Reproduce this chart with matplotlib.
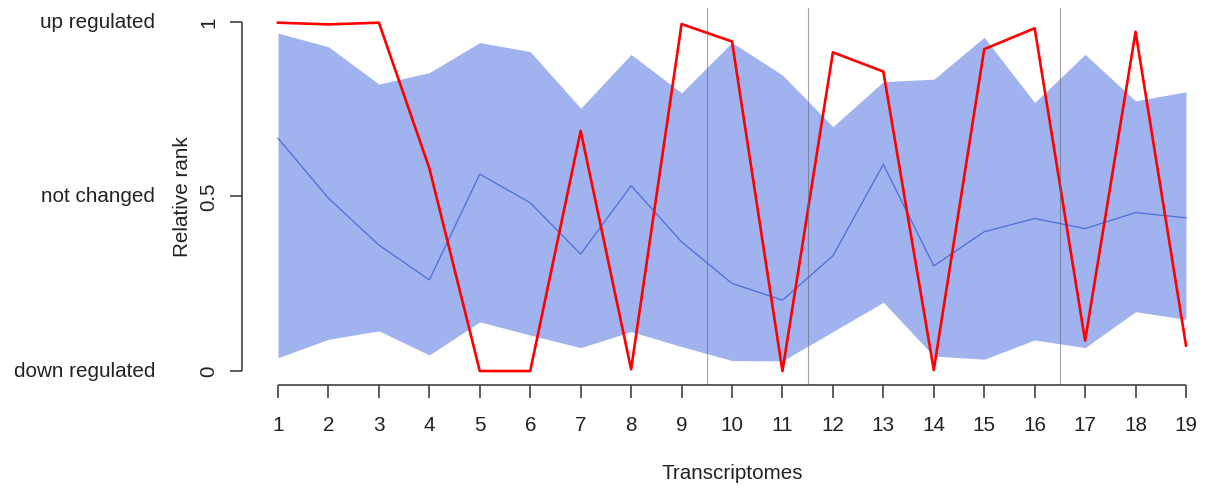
import numpy as np
import matplotlib
matplotlib.use('Agg')
import matplotlib.pyplot as plt

plt.rcParams['font.family'] = ['Liberation Sans', 'DejaVu Sans']

# data to plot
transcriptomes = np.arange(1, 20)
band_upper = [0.968, 0.929, 0.822, 0.855, 0.941, 0.915, 0.753, 0.907, 0.797, 0.941,
              0.848, 0.700, 0.829, 0.836, 0.956, 0.769, 0.907, 0.774, 0.800]
band_lower = [0.038, 0.091, 0.115, 0.046, 0.141, 0.103, 0.067, 0.113, 0.070, 0.030,
              0.029, 0.113, 0.197, 0.043, 0.034, 0.089, 0.067, 0.170, 0.148]
median_rank = [0.667, 0.495, 0.361, 0.261, 0.564, 0.482, 0.335, 0.531, 0.370, 0.251,
               0.203, 0.330, 0.592, 0.301, 0.399, 0.437, 0.408, 0.454, 0.439]
gene_rank = [0.998, 0.993, 0.998, 0.581, 0.0, 0.0, 0.688, 0.005, 0.994, 0.944,
             0.0, 0.913, 0.858, 0.003, 0.922, 0.982, 0.087, 0.972, 0.073]
separators = [9.5, 11.5, 16.5]
state_labels = ['down regulated', 'not changed', 'up regulated']
y_ticks = [0, 0.5, 1]

fs = 14.9

# create plot
fig = plt.figure(figsize=(12.06, 4.86), dpi=100)
ax = fig.add_axes([242 / 1206, 101 / 486, 1 - 242 / 1206, 377 / 486])

ax.fill_between(transcriptomes, band_lower, band_upper, color='#a0b3ee', linewidth=0)
ax.plot(transcriptomes, median_rank, color='#4a6fdc', lw=0.9)
ax.plot(transcriptomes, gene_rank, color='#ff0000', lw=1.9)
for s in separators:
    ax.axvline(s, color='#666677', lw=0.8, alpha=0.6)

ax.set_xlim(1 - 36 / 50.44, 19 + 20 / 50.44)
ax.set_ylim(-0.04, 1.04)

# R style axes, no box
for side in ['top', 'right', 'left', 'bottom']:
    ax.spines[side].set_visible(False)
ax.plot([1, 19], [-0.04, -0.04], color='#333333', lw=1.1, clip_on=False,
        solid_capstyle='butt')
ax.plot([ax.get_xlim()[0]] * 2, [0, 1], color='#333333', lw=1.1, clip_on=False,
        solid_capstyle='butt')

ax.set_xticks(transcriptomes)
ax.set_xticklabels([str(t) for t in transcriptomes])
ax.set_yticks(y_ticks)
ax.set_yticklabels(['0', '0.5', '1'], rotation=90, va='center')
ax.tick_params(axis='both', direction='out', length=9, width=1.1, color='#333333',
               labelsize=fs, labelcolor='#222222')
ax.tick_params(axis='x', pad=13)
ax.tick_params(axis='y', pad=8)

# state labels left of the y axis
for v, lab in zip(y_ticks, state_labels):
    py = 371 - v * 349
    fig.text(155 / 1206, 1 - py / 486, lab, ha='right', va='center',
             fontsize=fs, color='#222222')

fig.text(183 / 1206, 1 - 197 / 486, 'Relative rank', rotation=90, ha='center',
         va='center', fontsize=fs, color='#222222')
fig.text(732 / 1206, 1 - 473 / 486, 'Transcriptomes', ha='center', va='center',
         fontsize=fs, color='#222222')

fig.savefig('out.png', dpi=100)
